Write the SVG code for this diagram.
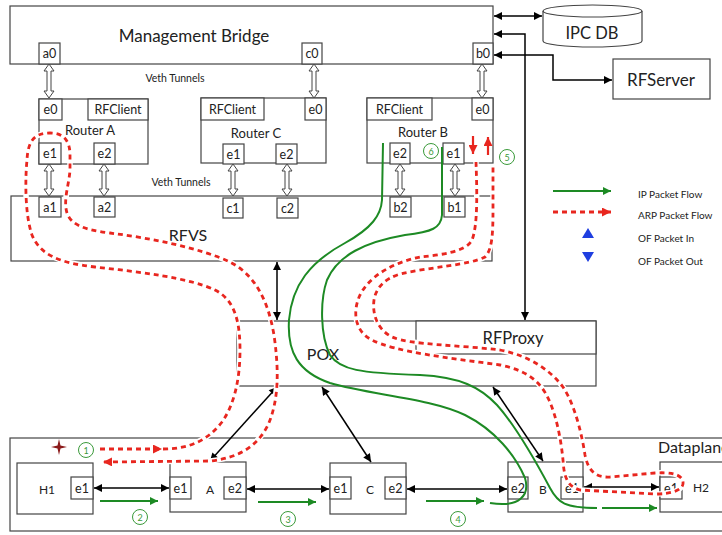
<svg xmlns="http://www.w3.org/2000/svg" xmlns:xlink="http://www.w3.org/1999/xlink" width="722" height="535" viewBox="0 0 722 535">
<style>
.box{fill:#fff;stroke:#444;stroke-width:1.2}
text{font-family:Lato,"Liberation Sans",sans-serif;fill:#222;text-anchor:middle}
.p{font-size:12.5px}
.big{font-size:17px}
.lg{font-size:10px;text-anchor:start}
.blk{stroke:#000;stroke-width:1.5;fill:none}
.veth{fill:#fff;stroke:#444;stroke-width:1}
.arpbg{stroke:#fff;stroke-width:5.5;fill:none}
.arp{stroke:#e8261f;stroke-width:2.8;stroke-dasharray:5 4;fill:none}
.ip{stroke:#1d8a24;stroke-width:2;fill:none}
.num circle{fill:#fff;stroke:#3a9a3a;stroke-width:1}
.num text{fill:#3a9a3a;font-size:9px}
</style>
<defs>
<marker id="ak" viewBox="0 0 10 10" refX="10" refY="5" markerWidth="9" markerHeight="8" orient="auto-start-reverse" markerUnits="userSpaceOnUse"><path d="M0,0 L10,5 L0,10 z" fill="#000"/></marker>
<marker id="ag" viewBox="0 0 10 10" refX="10" refY="5" markerWidth="9" markerHeight="8" orient="auto-start-reverse" markerUnits="userSpaceOnUse"><path d="M0,0 L10,5 L0,10 z" fill="#1d8a24"/></marker>
<marker id="ar" viewBox="0 0 10 10" refX="10" refY="5" markerWidth="9" markerHeight="9" orient="auto-start-reverse" markerUnits="userSpaceOnUse"><path d="M0,0 L10,5 L0,10 z" fill="#e8261f"/></marker>
<path id="v34" class="veth" d="M0,0 L5,7 L2,7 L2,27 L5,27 L0,34 L-5,27 L-2,27 L-2,7 L-5,7Z"/>
<path id="v32" class="veth" d="M0,0 L5,7 L2,7 L2,25 L5,25 L0,32 L-5,25 L-2,25 L-2,7 L-5,7Z"/>
</defs>
<rect width="722" height="535" fill="#fff"/>

<g id="mgmt-bridge">
<rect class="box" x="10" y="6" width="483" height="58"/>
<text class="big" x="194" y="42">Management Bridge</text>
<rect class="box" x="39" y="43" width="21" height="21"/><text class="p" x="49.5" y="58">a0</text>
<rect class="box" x="302" y="43" width="20" height="21"/><text class="p" x="312" y="58">c0</text>
<rect class="box" x="473" y="43" width="20" height="21"/><text class="p" x="483" y="58">b0</text>
</g>

<g id="ipc-db">
<path class="box" d="M543,11 A49.5,6 0 0 1 642,11 V41 A49.5,6 0 0 1 543,41 Z"/>
<path fill="none" stroke="#444" stroke-width="1.2" d="M543,11 A49.5,6 0 0 0 642,11"/>
<text x="592" y="39" style="font-size:16.5px">IPC DB</text>
</g>

<g id="rfserver">
<rect class="box" x="613" y="59" width="97" height="40"/>
<text class="big" x="661" y="86">RFServer</text>
</g>

<g id="router-a">
<rect class="box" x="39" y="99" width="109" height="65"/>
<rect class="box" x="39" y="99" width="23" height="21"/><text class="p" x="50.5" y="114">e0</text>
<rect class="box" x="88" y="99" width="60" height="21"/><text class="p" x="118" y="114">RFClient</text>
<text x="90" y="135" style="font-size:13px">Router A</text>
<rect class="box" x="39" y="143" width="22" height="21"/><text class="p" x="50" y="158">e1</text>
<rect class="box" x="94" y="143" width="21" height="21"/><text class="p" x="104.5" y="158">e2</text>
</g>

<g id="router-c">
<rect class="box" x="201" y="98" width="125" height="65"/>
<rect class="box" x="201" y="98" width="63" height="22"/><text class="p" x="232.5" y="114">RFClient</text>
<rect class="box" x="305" y="98" width="21" height="22"/><text class="p" x="315.5" y="114">e0</text>
<text x="256" y="138" style="font-size:13px">Router C</text>
<rect class="box" x="223" y="144" width="21" height="20"/><text class="p" x="233.5" y="159">e1</text>
<rect class="box" x="276" y="144" width="21" height="20"/><text class="p" x="286.5" y="159">e2</text>
</g>

<g id="router-b">
<rect class="box" x="367" y="98" width="126" height="65"/>
<rect class="box" x="367" y="98" width="65" height="22"/><text class="p" x="399.5" y="114">RFClient</text>
<rect class="box" x="472" y="98" width="21" height="22"/><text class="p" x="482.5" y="114">e0</text>
<text x="423" y="137" style="font-size:13px">Router B</text>
<rect class="box" x="390" y="143" width="20" height="21"/><text class="p" x="400" y="158">e2</text>
<rect class="box" x="443" y="143" width="21" height="21"/><text class="p" x="453.5" y="158">e1</text>
</g>

<g id="rfvs">
<rect class="box" x="11" y="196" width="481" height="65"/>
<text x="188" y="241" style="font-size:16px">RFVS</text>
<rect class="box" x="39" y="197" width="22" height="20"/><text class="p" x="50" y="212">a1</text>
<rect class="box" x="94" y="197" width="21" height="20"/><text class="p" x="104.5" y="212">a2</text>
<rect class="box" x="223" y="198" width="20" height="20"/><text class="p" x="233" y="213">c1</text>
<rect class="box" x="277" y="198" width="21" height="20"/><text class="p" x="287.5" y="213">c2</text>
<rect class="box" x="390" y="197" width="21" height="20"/><text class="p" x="400.5" y="212">b2</text>
<rect class="box" x="444" y="197" width="21" height="20"/><text class="p" x="454.5" y="212">b1</text>
</g>

<g id="pox">
<rect class="box" x="237" y="321" width="359" height="65"/>
<text x="323" y="360" style="font-size:16px">POX</text>
</g>
<g id="rfproxy">
<rect class="box" x="416" y="321" width="180" height="33"/>
<text x="513" y="344" style="font-size:16.5px">RFProxy</text>
</g>

<g id="dataplane">
<rect class="box" x="10" y="438" width="730" height="93"/>
<text x="658" y="453" style="font-size:16px;text-anchor:start">Dataplane</text>
</g>
<g id="h1">
<rect class="box" x="17" y="463" width="76" height="51"/><text x="47" y="494" style="font-size:12px">H1</text>
<rect class="box" x="71" y="477" width="22" height="22"/><text class="p" x="82" y="493">e1</text>
</g>
<g id="sw-a">
<rect class="box" x="170" y="462" width="76" height="50"/><text x="210" y="494" style="font-size:12px">A</text>
<rect class="box" x="170" y="477" width="21" height="22"/><text class="p" x="180.5" y="493">e1</text>
<rect class="box" x="224" y="477" width="22" height="22"/><text class="p" x="235" y="493">e2</text>
</g>
<g id="sw-c">
<rect class="box" x="330" y="463" width="76" height="51"/><text x="370" y="494" style="font-size:12px">C</text>
<rect class="box" x="330" y="477" width="21" height="22"/><text class="p" x="340.5" y="493">e1</text>
<rect class="box" x="385" y="477" width="21" height="22"/><text class="p" x="395.5" y="493">e2</text>
</g>
<g id="sw-b">
<rect class="box" x="508" y="462" width="75" height="50"/><text x="543" y="494" style="font-size:12px">B</text>
<rect class="box" x="508" y="477" width="20" height="22"/><text class="p" x="518" y="493">e2</text>
<rect class="box" x="561" y="477" width="22" height="22"/><text class="p" x="572" y="493">e1</text>
</g>
<g id="h2">
<rect class="box" x="660" y="462" width="70" height="50"/><text x="701" y="492" style="font-size:12px">H2</text>
<rect class="box" x="660" y="477" width="22" height="22"/><text class="p" x="671" y="493">e1</text>
</g>

<g id="labels">
<text x="175" y="82" style="font-size:10.5px">Veth Tunnels</text>
<text x="181" y="186" style="font-size:10.5px">Veth Tunnels</text>
</g>

<g id="connectors">
<use href="#v34" x="49" y="64"/>
<use href="#v34" x="314" y="64"/>
<use href="#v34" x="482" y="64"/>
<use href="#v32" x="49" y="164"/>
<use href="#v32" x="104" y="164"/>
<use href="#v32" x="233" y="164"/>
<use href="#v32" x="287" y="164"/>
<use href="#v32" x="400" y="164"/>
<use href="#v32" x="455" y="164"/>
<path class="blk" d="M494,16 H542" marker-start="url(#ak)" marker-end="url(#ak)"/>
<path class="blk" d="M494,34 H525 V320" marker-start="url(#ak)" marker-end="url(#ak)"/>
<path class="blk" d="M494,55 H553 V80 H612" marker-start="url(#ak)" marker-end="url(#ak)"/>
<path class="blk" d="M277,262 V320" marker-start="url(#ak)" marker-end="url(#ak)"/>
<path class="blk" d="M277,387 L210,461" marker-start="url(#ak)" marker-end="url(#ak)"/>
<path class="blk" d="M322,387 L371,462" marker-start="url(#ak)" marker-end="url(#ak)"/>
<path class="blk" d="M493,387 L543,461" marker-start="url(#ak)" marker-end="url(#ak)"/>
<path class="blk" d="M94,488 H169" marker-start="url(#ak)" marker-end="url(#ak)"/>
<path class="blk" d="M247,489 H329" marker-start="url(#ak)" marker-end="url(#ak)"/>
<path class="blk" d="M407,489 H507" marker-start="url(#ak)" marker-end="url(#ak)"/>
<path class="blk" d="M584,487 H659" marker-start="url(#ak)" marker-end="url(#ak)"/>

<path class="ip" d="M383,143 L382,200 C381,215 372,228 345,243 C310,262 292,285 289,320 C287,352 298,372 330,383 C370,395 430,398 465,415 C495,430 515,455 525,478 C530,495 520,508 490,503"/>
<path class="ip" d="M442,147 L442,215 C441,228 432,232 405,235 C365,242 338,255 327,280 C320,300 320,335 330,355 C340,370 360,373 420,375 C460,377 480,387 497,405 C515,425 535,460 550,488 C558,503 565,508 597,508"/>
<path class="ip" d="M100,501 H158" marker-end="url(#ag)"/>
<path class="ip" d="M258,502 H316" marker-end="url(#ag)"/>
<path class="ip" d="M426,501 H484" marker-end="url(#ag)"/>
<path class="ip" d="M602,508 H657" marker-end="url(#ag)"/>

<path class="arpbg" d="M100,449 H160 C190,449 208,440 222,422 C234,405 240,380 240,350 C240,322 235,300 215,290 C190,278 140,272 95,267 C60,263 40,255 32,235 C25,215 25,180 27,160 C28,140 35,133 50,133 C63,133 70,140 70,155 L70,170 C69,185 63,200 67,213 C71,225 85,230 110,233 C150,238 200,248 230,262 C255,275 268,300 274,335 C279,370 279,400 268,425 C257,447 238,458 210,461 L110,462"/>
<path class="arp" d="M100,449 H162" marker-end="url(#ar)"/>
<path class="arp" d="M163,449 C190,449 208,440 222,422 C234,405 240,380 240,350 C240,322 235,300 215,290 C190,278 140,272 95,267 C60,263 40,255 32,235 C25,215 25,180 27,160 C28,140 35,133 50,133 C63,133 70,140 70,155 L70,170 C69,185 63,200 67,213 C71,225 85,230 110,233 C150,238 200,248 230,262 C255,275 268,300 274,335 C279,370 279,400 268,425 C257,447 238,458 210,461 L103,462" marker-end="url(#ar)"/>

<path class="arpbg" d="M476,162 C477,190 478,225 472,240 C466,252 440,255 420,257 C395,262 370,275 360,295 C352,312 355,332 372,340 C395,352 450,358 500,365 C525,370 540,380 549,400 C557,418 561,440 563,460 C564,475 566,486 580,490 L655,494 C672,494 684,490 683,482 C682,474 670,472 655,473 L610,477 C595,478 588,470 585,455 C582,435 575,405 563,387 C550,370 530,356 500,350 C460,345 410,345 392,337 C378,330 372,315 374,300 C376,288 384,279 400,274 C430,267 470,265 485,257 C492,250 493,235 493,210 L493,165"/>
<path class="arp" d="M476,162 C477,190 478,225 472,240 C466,252 440,255 420,257 C395,262 370,275 360,295 C352,312 355,332 372,340 C395,352 450,358 500,365 C525,370 540,380 549,400 C557,418 561,440 563,460 C564,475 566,486 580,490 L655,494 C672,494 684,490 683,482 C682,474 670,472 655,473 L610,477 C595,478 588,470 585,455 C582,435 575,405 563,387 C550,370 530,356 500,350 C460,345 410,345 392,337 C378,330 372,315 374,300 C376,288 384,279 400,274 C430,267 470,265 485,257 C492,250 493,235 493,210 L493,165"/>
<path stroke="#e8261f" stroke-width="2.2" fill="none" d="M473,136 V154" marker-end="url(#ar)"/>
<path stroke="#e8261f" stroke-width="2.2" fill="none" d="M488,155 V137" marker-end="url(#ar)"/>
</g>

<g id="steps" class="num">
<circle cx="86" cy="450" r="7.5"/><text x="86" y="453.5">1</text>
<circle cx="140" cy="517" r="7.5"/><text x="140" y="520.5">2</text>
<circle cx="288" cy="519" r="7.5"/><text x="288" y="522.5">3</text>
<circle cx="458" cy="519" r="7.5"/><text x="458" y="522.5">4</text>
<circle cx="507" cy="157" r="7.5"/><text x="507" y="160.5">5</text>
<circle cx="431" cy="151" r="7.5"/><text x="431" y="154.5">6</text>
</g>
<path id="star" fill="#8b1a1a" d="M59,439 L60.5,445.5 L67,447 L60.5,448.5 L59,455 L57.5,448.5 L51,447 L57.5,445.5 Z"/>

<g id="legend">
<path class="ip" d="M553,191 H611" marker-end="url(#ag)"/>
<text class="lg" x="638" y="198">IP Packet Flow</text>
<path class="arp" d="M553,212 H611" marker-end="url(#ar)"/>
<text class="lg" x="638" y="219">ARP Packet Flow</text>
<polygon fill="#1f3fe0" points="582,238 594,238 588,228"/>
<text class="lg" x="638" y="242">OF Packet In</text>
<polygon fill="#1f3fe0" points="582,252 594,252 588,262"/>
<text class="lg" x="638" y="265">OF Packet Out</text>
</g>
</svg>
